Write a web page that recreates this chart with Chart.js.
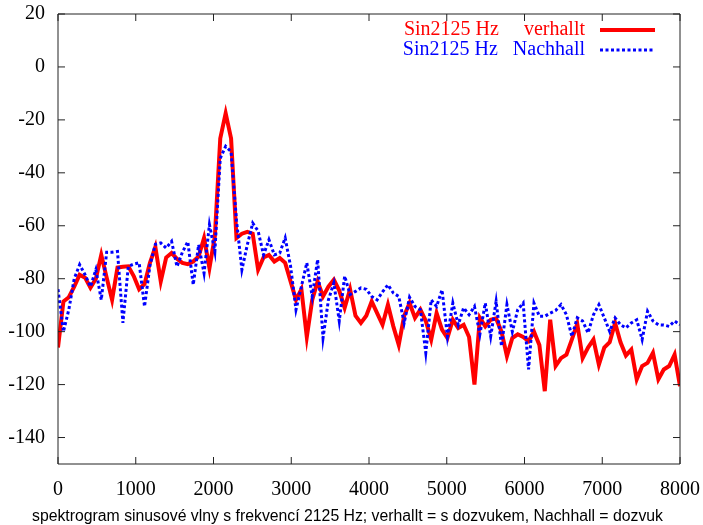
<!DOCTYPE html>
<html lang="cs">
<head>
<meta charset="UTF-8">
<title>Spektrogram sinusové vlny 2125 Hz</title>
<script src="https://cdn.jsdelivr.net/npm/chart.js"></script>
<style>
  html, body { margin: 0; padding: 0; background: #fff; }
  #wrap { width: 703px; height: 525px; }
</style>
</head>
<body>
<div id="wrap"><canvas id="spektrum" width="703" height="525"></canvas></div>
<script>
// šířka frekvenčního pásma v Hz, první pásmo leží na 0 Hz
const binHz = 8000 / 115;

// úroveň v dB pro každé pásmo
const verhallt = [
  -106, -88.6, -87, -83, -78.5, -79.6, -83.4, -80, -71, -79.6,
  -88, -75.8, -75.5, -75.3, -79, -84, -82, -74, -68, -81,
  -72, -70.3, -72.5, -74, -74.5, -73.5, -71.6, -64.6, -76, -64,
  -27, -17.5, -27, -64.6, -63, -62.3, -63, -76.6, -72, -71,
  -73.5, -72.2, -74, -81, -88, -84, -102, -88, -81, -86.7,
  -83, -80.4, -84.5, -91, -84, -94, -96.7, -94, -88.6, -93,
  -97.4, -89.8, -98, -105, -94, -89.2, -94.8, -91.7, -96, -103,
  -93, -99.2, -102.4, -95.5, -98.6, -97.4, -102, -120, -94.8, -98,
  -95.5, -95, -100, -109.3, -102.4, -101, -102, -103.6, -100, -105,
  -122.5, -95.5, -113, -110, -108.7, -103, -97, -110, -106, -103,
  -112.5, -106, -104, -96.7, -104, -109, -106.8, -118, -113, -111.8,
  -108, -118, -114.3, -113, -108.7, -120.6
];

const nachhall = [
  -84, -100, -91.7, -80, -74.7, -78.5, -83, -76.6, -88, -70,
  -70, -69.7, -96.7, -75.3, -74.5, -74, -90.5, -75, -67, -66.5,
  -68.4, -65.9, -75.4, -70, -66, -82.3, -67.2, -77.9, -59.6, -69.7,
  -34.5, -30, -32, -58, -76.6, -67.2, -59, -62, -71, -65.3,
  -71, -70.3, -64.6, -75.3, -91.7, -83, -74, -86.7, -72.8, -102.4,
  -88, -81.6, -96, -79, -86, -84.8, -83.5, -84, -86.7, -88,
  -85, -82.3, -85.4, -86.7, -96.7, -87, -90.5, -91.7, -108, -88,
  -90.5, -84.2, -101.8, -89.2, -97.4, -91, -93.6, -90.5, -101, -89.2,
  -101.8, -88.6, -105.5, -89.8, -100, -91.7, -89.2, -114.3, -89.2, -94.2,
  -94.2, -93, -92, -89.8, -93.6, -101.8, -94.8, -96, -100.5, -93.6,
  -89.8, -94.8, -99.9, -94.8, -97.4, -98.6, -96.7, -95.5, -103, -92.3,
  -96, -97.4, -97.5, -98, -96, -97.4
];

const xTicks = [0, 1000, 2000, 3000, 4000, 5000, 6000, 7000, 8000];
const yTicks = [20, 0, -20, -40, -60, -80, -100, -120, -140];

const labelVerhallt = 'Sin2125 Hz     verhallt';
const labelNachhall = 'Sin2125 Hz   Nachhall';
const popisek = 'spektrogram sinusové vlny s frekvencí 2125 Hz; verhallt = s dozvukem, Nachhall = dozvuk';

const toPoints = arr => arr.map((v, i) => ({ x: i * binHz, y: v }));

// pevná velikost os, bez dodatečného odsazení kvůli popiskům
const fixAxis = (w, h) => s => {
  if (w !== null) s.width = w;
  if (h !== null) s.height = h;
  s.paddingTop = s.paddingBottom = s.paddingLeft = s.paddingRight = 0;
};

// rám grafu, ticky dovnitř, legenda vpravo nahoře a popisek dole
const gnuplotStyl = {
  id: 'gnuplotStyl',
  afterDatasetsDraw(chart) {
    const { ctx, chartArea: a, scales } = chart;
    const tl = 7;
    ctx.save();
    ctx.strokeStyle = '#222';
    ctx.lineWidth = 1;
    ctx.beginPath();
    ctx.rect(a.left, a.top, a.right - a.left, a.bottom - a.top);
    xTicks.forEach(v => {
      const px = scales.x.getPixelForValue(v);
      ctx.moveTo(px, a.bottom); ctx.lineTo(px, a.bottom - tl);
      ctx.moveTo(px, a.top); ctx.lineTo(px, a.top + tl);
    });
    yTicks.forEach(v => {
      const py = scales.y.getPixelForValue(v);
      ctx.moveTo(a.left, py); ctx.lineTo(a.left + tl, py);
      ctx.moveTo(a.right, py); ctx.lineTo(a.right - tl, py);
    });
    ctx.stroke();

    // legenda
    const ds = chart.data.datasets;
    const rows = [ds[1], ds[0]];
    ctx.font = "20px 'Liberation Serif', 'Times New Roman', serif";
    ctx.textAlign = 'right';
    ctx.textBaseline = 'middle';
    rows.forEach((d, i) => {
      const y = 30 + i * 20;
      ctx.fillStyle = d.borderColor;
      ctx.fillText(d.label, 585, y);
      ctx.strokeStyle = d.borderColor;
      ctx.lineWidth = d.borderWidth;
      ctx.setLineDash(d.borderDash || []);
      ctx.beginPath();
      ctx.moveTo(600, y);
      ctx.lineTo(655, y);
      ctx.stroke();
    });
    ctx.setLineDash([]);

    ctx.font = "16px 'Liberation Sans', Arial, sans-serif";
    ctx.fillStyle = '#000';
    ctx.textAlign = 'center';
    ctx.fillText(popisek, 347.5, 517, 631);
    ctx.restore();
  }
};

Chart.defaults.font.family = "'Liberation Serif', 'Times New Roman', serif";
Chart.defaults.font.size = 20;
Chart.defaults.color = '#000';

new Chart(document.getElementById('spektrum'), {
  type: 'line',
  data: {
    datasets: [
      {
        label: labelNachhall,
        data: toPoints(nachhall),
        borderColor: '#0000ff',
        borderWidth: 3,
        borderDash: [3, 2.5],
        pointRadius: 0,
        tension: 0,
        order: 1
      },
      {
        label: labelVerhallt,
        data: toPoints(verhallt),
        borderColor: '#ff0000',
        borderWidth: 4,
        pointRadius: 0,
        tension: 0,
        order: 2
      }
    ]
  },
  options: {
    responsive: false,
    animation: false,
    layout: { padding: { top: 14, right: 23, left: 0, bottom: 0 } },
    plugins: {
      legend: { display: false },
      tooltip: { enabled: false }
    },
    scales: {
      x: {
        type: 'linear',
        min: 0,
        max: 8000,
        grid: { display: false },
        border: { display: false },
        ticks: { padding: 6, maxRotation: 0, autoSkip: false, callback: v => String(v) },
        afterBuildTicks: s => { s.ticks = xTicks.map(v => ({ value: v })); },
        afterFit: fixAxis(null, 61)
      },
      y: {
        min: -150,
        max: 20,
        grid: { display: false },
        border: { display: false },
        ticks: { padding: 5, callback: v => String(v) },
        afterBuildTicks: s => { s.ticks = yTicks.map(v => ({ value: v })); },
        afterFit: fixAxis(58, null)
      }
    }
  },
  plugins: [gnuplotStyl]
});
</script>
</body>
</html>
